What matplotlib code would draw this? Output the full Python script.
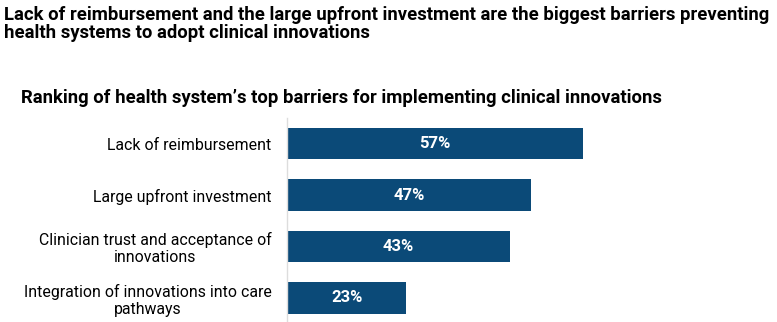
import matplotlib.pyplot as plt

plt.rcParams['font.family'] = ['Roboto', 'DejaVu Sans']

# data
barriers = [
    'Lack of reimbursement',
    'Large upfront investment',
    'Clinician trust and acceptance of\ninnovations',
    'Integration of innovations into care\npathways',
]
shares = [57, 47, 43, 23]

bar_color = '#0b4a78'

fig = plt.figure(figsize=(7.77, 3.22), dpi=100)
ax = fig.add_axes([287 / 777, 0, 415 / 777, 204 / 322])

pos = list(range(len(barriers)))
bars = ax.barh(pos, shares, height=0.615, color=bar_color)

for p, v in zip(pos, shares):
    ax.text(v / 2, p, f'{v}%', ha='center', va='center',
            color='white', fontsize=12, fontweight='bold')

ax.set_xlim(0, 80)
ax.set_ylim(3.47, -0.5)
ax.set_yticks(pos)
ax.set_yticklabels(barriers, fontsize=11.4, multialignment='center',
                   linespacing=1.15)
ax.tick_params(axis='y', length=0, pad=11)
ax.set_xticks([])
for s in ['top', 'right', 'bottom']:
    ax.spines[s].set_visible(False)
ax.spines['left'].set_color('#dddddd')
ax.spines['left'].set_linewidth(1)

# titles
fig.text(4 / 777, 1 - 38 / 322,
         'Lack of reimbursement and the large upfront investment are the biggest barriers preventing\n'
         'health systems to adopt clinical innovations',
         fontsize=13.3, fontweight='bold', ha='left', va='baseline', linespacing=1.0)
fig.text(21 / 777, 1 - 103 / 322,
         'Ranking of health system\u2019s top barriers for implementing clinical innovations',
         fontsize=13.3, fontweight='bold', ha='left', va='baseline')

fig.savefig('out.png', dpi=100)
